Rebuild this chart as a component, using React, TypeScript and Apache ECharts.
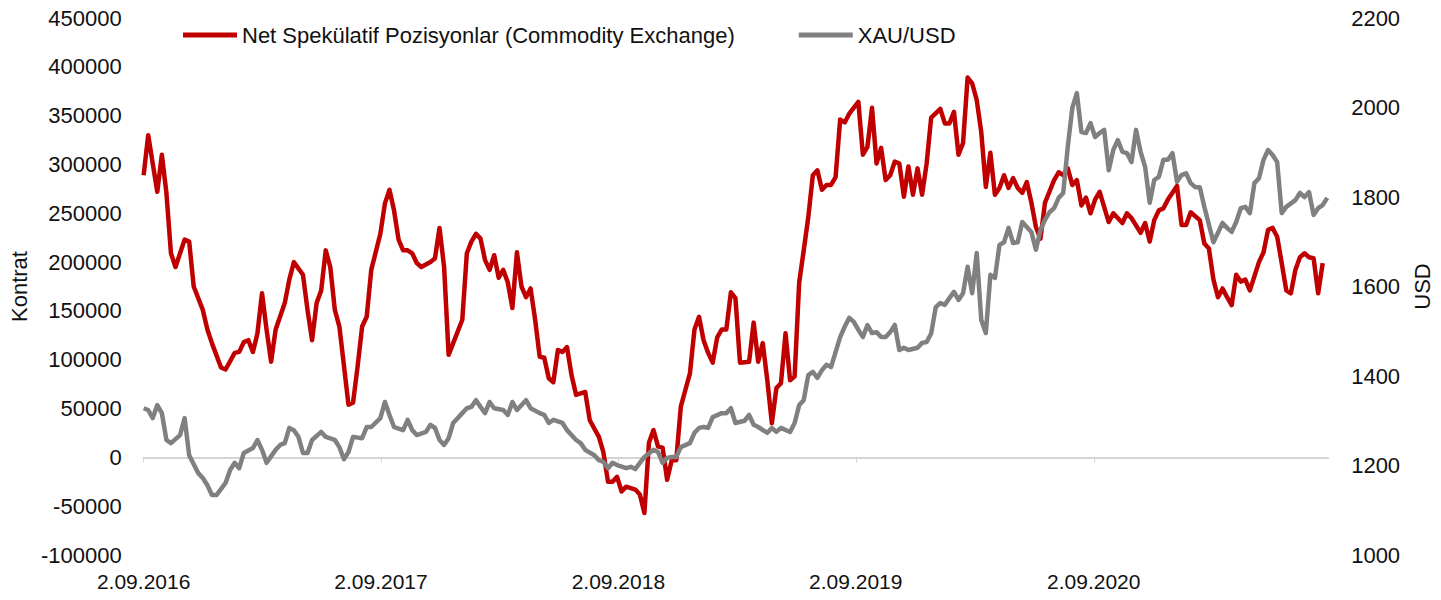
import React, { useEffect, useRef } from "react";
import * as echarts from "echarts";

// Weekly observations: week index counted from 2.09.2016
const START_UTC = Date.UTC(2016, 8, 2);

const redWeeks = [0,1,3,4,5,6,7,9,10,11,13,14,15,17,18,20,21,22,23,24,25,26,27,28,29,31,32,33,35,36,37,38,39,40,41,42,43,45,46,47,48,49,50,52,53,54,55,56,57,58,59,60,61,63,64,65,66,67,68,70,71,72,73,74,75,76,77,78,79,80,81,82,83,84,85,86,87,88,89,90,91,92,93,94,95,97,98,100,101,102,103,104,105,106,108,109,110,111,112,113,114,115,116,117,118,119,120,121,122,123,124,125,126,127,128,129,130,131,133,134,135,136,137,138,139,140,141,142,143,144,145,146,147,148,149,150,151,152,153,154,155,157,158,159,160,161,162,163,164,165,166,167,168,169,170,171,172,173,175,176,177,178,179,180,181,182,183,184,185,186,187,188,189,190,191,192,193,194,195,196,197,198,200,201,202,203,204,205,206,207,208,209,210,212,213,215,216,217,219,220,221,222,223,224,225,227,228,229,230,232,233,234,235,236,237,238,239,240,241,242,243,245,246,247,248,249,250,251,252,253,254,255,256,257,258,259];
const redValues = [289000,330000,272000,310000,271000,209000,195000,223000,221000,175000,151000,131000,117000,92000,90000,107000,108000,118000,120000,108000,127000,168000,131000,98000,131000,158000,182000,200000,187000,151000,120000,158000,171000,212000,195000,151000,134000,54000,56000,93000,134000,144000,192000,229000,260000,274000,253000,223000,212000,212000,209000,199000,195000,200000,204000,235000,195000,105000,117000,141000,209000,221000,229000,224000,202000,192000,207000,184000,192000,179000,153000,210000,175000,164000,173000,141000,103000,102000,81000,77000,110000,108000,113000,84000,64000,67000,38000,21000,5000,-25000,-25000,-20000,-35000,-30000,-33000,-38000,-57000,15000,28000,11000,10000,-23000,-3000,-3000,52000,69000,86000,131000,144000,120000,107000,97000,123000,131000,131000,169000,163000,97000,98000,138000,98000,117000,79000,35000,71000,76000,127000,79000,83000,179000,212000,246000,289000,294000,274000,279000,279000,287000,346000,343000,352000,364000,310000,318000,358000,301000,317000,284000,289000,303000,301000,267000,298000,269000,296000,269000,301000,348000,357000,342000,342000,354000,310000,322000,389000,383000,366000,333000,277000,312000,269000,276000,289000,276000,286000,276000,271000,282000,261000,236000,224000,261000,284000,292000,289000,296000,279000,284000,258000,266000,250000,264000,272000,241000,250000,240000,250000,245000,230000,240000,221000,243000,253000,255000,264000,278000,238000,238000,251000,243000,219000,214000,182000,164000,173000,164000,156000,187000,180000,182000,171000,200000,210000,233000,235000,226000,199000,171000,168000,192000,205000,209000,205000,204000,168000,199000];

const goldWeeks = [0,1,2,3,4,5,6,8,9,10,12,13,14,15,16,18,19,20,21,22,24,25,26,27,29,30,31,32,33,34,35,36,37,39,40,42,43,44,45,46,48,49,50,52,53,54,55,57,58,59,60,62,63,64,65,66,67,68,70,71,72,73,74,75,76,77,79,80,81,82,84,85,87,88,89,90,92,93,95,96,97,99,100,101,102,103,104,106,107,108,109,110,112,113,114,115,116,117,118,120,121,122,123,124,125,127,128,129,130,132,133,134,135,137,138,139,140,142,143,144,145,146,147,148,149,150,151,153,154,155,156,157,158,159,160,161,162,163,164,165,166,167,168,170,171,172,173,174,175,176,177,178,179,180,181,182,183,184,185,186,187,188,189,190,191,192,193,194,195,196,197,198,199,200,201,202,203,204,205,206,207,208,209,210,211,212,213,214,215,216,217,218,219,220,221,222,223,224,225,226,227,228,229,230,231,232,233,235,236,237,238,239,240,241,242,243,244,245,246,247,248,249,250,251,253,254,255,256,257,258,259,260];
const goldValues = [1328,1324,1306,1335,1317,1257,1250,1268,1306,1223,1183,1172,1156,1134,1134,1161,1190,1206,1194,1228,1239,1257,1235,1206,1235,1246,1250,1284,1279,1264,1228,1228,1257,1275,1264,1257,1241,1214,1230,1264,1261,1286,1286,1306,1342,1313,1286,1279,1302,1279,1268,1275,1291,1284,1257,1246,1261,1295,1317,1328,1331,1346,1331,1317,1342,1328,1324,1313,1342,1324,1346,1328,1317,1313,1295,1302,1295,1279,1257,1250,1235,1223,1212,1208,1194,1206,1201,1194,1197,1192,1206,1219,1235,1230,1206,1217,1219,1219,1241,1250,1273,1284,1286,1284,1308,1317,1317,1328,1295,1300,1313,1291,1286,1273,1284,1275,1284,1275,1295,1335,1346,1402,1409,1396,1413,1425,1420,1487,1510,1530,1521,1503,1487,1514,1496,1498,1487,1487,1498,1514,1458,1463,1458,1463,1474,1476,1495,1554,1563,1559,1574,1588,1570,1585,1644,1585,1675,1525,1496,1626,1619,1693,1699,1731,1697,1699,1744,1733,1722,1682,1726,1749,1766,1775,1798,1809,1912,1999,2032,1945,1943,1965,1934,1943,1950,1860,1905,1927,1901,1898,1878,1950,1901,1867,1787,1838,1845,1883,1883,1898,1834,1849,1853,1831,1822,1822,1778,1699,1720,1742,1731,1722,1744,1775,1778,1764,1831,1842,1883,1905,1894,1878,1764,1778,1793,1809,1800,1811,1760,1775,1782,1798];

// Axis label dates (days after 2.09.2016)
const xLabelDays = [0, 365, 730, 1095, 1461];
const seriesNames = ["Net Spekülatif Pozisyonlar (Commodity Exchange)", "XAU/USD"];

const FONT = "'Liberation Sans', Arial, sans-serif";
const TXT = "#111111";

function fmtDate(weeks: number): string {
  const d = new Date(START_UTC + Math.round(weeks * 7) * 86400000);
  return `${d.getUTCDate()}.${String(d.getUTCMonth() + 1).padStart(2, "0")}.${d.getUTCFullYear()}`;
}

export default function App() {
  const ref = useRef<HTMLDivElement>(null);
  useEffect(() => {
    if (!ref.current) return;
    const chart = echarts.init(ref.current, undefined, { renderer: "svg" });
    const labelWeeks = xLabelDays.map((d) => d / 7);
    const xMax = 260.2;
    chart.setOption({
      animation: false,
      backgroundColor: "#ffffff",
      textStyle: { fontFamily: FONT },
      grid: { left: 135, right: 109, top: 18, bottom: 45, containLabel: false },
      legend: {
        left: 178,
        top: 19,
        icon: "rect",
        itemWidth: 54,
        itemHeight: 5,
        itemGap: 64,
        textStyle: { fontFamily: FONT, fontSize: 22, color: TXT },
        data: seriesNames,
      },
      xAxis: [
        {
          type: "value",
          min: 0,
          max: xMax,
          position: "bottom",
          axisLine: { show: false, onZero: false },
          axisTick: { show: false },
          splitLine: { show: false },
          axisLabel: {
            customValues: labelWeeks,
            showMinLabel: true,
            margin: 16,
            fontFamily: FONT,
            fontSize: 21,
            color: TXT,
            formatter: (v: number) => fmtDate(v),
          },
        },
        {
          type: "value",
          min: 0,
          max: xMax,
          position: "bottom",
          axisLine: { show: true, onZero: true, onZeroAxisIndex: 0, lineStyle: { color: "#d4d4d4", width: 2 } },
          axisTick: { show: true, customValues: labelWeeks, length: 5, lineStyle: { color: "#d4d4d4", width: 1 } },
          axisLabel: { show: false },
          splitLine: { show: false },
        },
      ],
      yAxis: [
        {
          type: "value",
          min: -100000,
          max: 450000,
          interval: 50000,
          name: "Kontrat",
          nameLocation: "middle",
          nameRotate: 90,
          nameGap: 110,
          nameTextStyle: { fontFamily: FONT, fontSize: 22, color: TXT },
          axisLine: { show: false },
          axisTick: { show: false },
          splitLine: { show: false },
          axisLabel: { margin: 22, fontFamily: FONT, fontSize: 22, color: TXT, formatter: (v: number) => String(v) },
        },
        {
          type: "value",
          min: 1000,
          max: 2200,
          interval: 200,
          position: "right",
          name: "USD",
          nameLocation: "middle",
          nameRotate: 90,
          nameGap: 78,
          nameTextStyle: { fontFamily: FONT, fontSize: 22, color: TXT },
          axisLine: { show: false },
          axisTick: { show: false },
          splitLine: { show: false },
          axisLabel: { margin: 23, fontFamily: FONT, fontSize: 22, color: TXT, formatter: (v: number) => String(v) },
        },
      ],
      series: [
        {
          name: seriesNames[0],
          type: "line",
          xAxisIndex: 0,
          yAxisIndex: 0,
          showSymbol: false,
          symbol: "none",
          lineStyle: { color: "#C00000", width: 4.5, join: "round" },
          itemStyle: { color: "#C00000" },
          data: redWeeks.map((w, i) => [w, redValues[i]]),
        },
        {
          name: seriesNames[1],
          type: "line",
          xAxisIndex: 0,
          yAxisIndex: 1,
          showSymbol: false,
          symbol: "none",
          lineStyle: { color: "#808080", width: 4.5, join: "round" },
          itemStyle: { color: "#808080" },
          data: goldWeeks.map((w, i) => [w, goldValues[i]]),
        },
      ],
    });
    return () => chart.dispose();
  }, []);
  return (
    <div
      ref={ref}
      style={{ position: "absolute", left: 0, top: 0, width: 1441, height: 600, background: "#fff" }}
    />
  );
}
